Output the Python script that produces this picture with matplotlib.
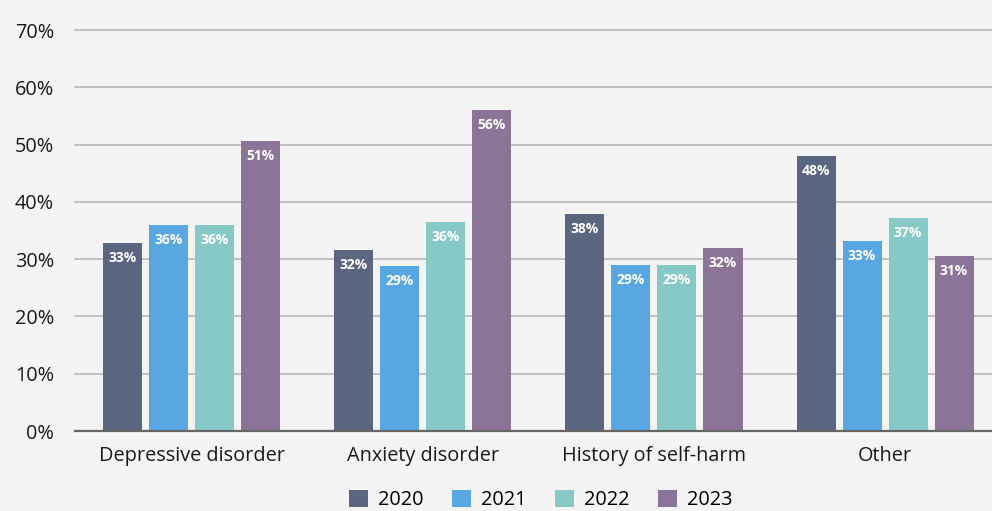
import matplotlib
matplotlib.use("Agg")
import matplotlib.pyplot as plt
from matplotlib.patches import Patch
import numpy as np

plt.rcParams['font.family'] = ['Open Sans', 'DejaVu Sans']

categories = ["Depressive disorder", "Anxiety disorder", "History of self-harm", "Other"]
years = ["2020", "2021", "2022", "2023"]
v2020 = [32.8, 31.6, 37.9, 48.0]
v2021 = [36.0, 28.8, 29.0, 33.2]
v2022 = [36.0, 36.5, 28.9, 37.2]
v2023 = [50.6, 56.0, 31.9, 30.6]
yticks = [0, 10, 20, 30, 40, 50, 60, 70]
colors = ["#5a667f", "#58a6e2", "#87c9c6", "#8c7499"]

series = [v2020, v2021, v2022, v2023]
bg = "#f4f4f4"

fig = plt.figure(figsize=(9.92, 5.11), dpi=100, facecolor=bg)
ax = fig.add_axes([75/992, 80/511, 1 - 75/992, (431-30)/511])
ax.set_facecolor(bg)

x = np.arange(len(categories))
step = 46/231
width = 39/231
for i, (vals, c) in enumerate(zip(series, colors)):
    pos = x + (i - 1.5) * step
    ax.bar(pos, vals, width=width, color=c, zorder=3)
    for p, v in zip(pos, vals):
        ax.text(p, v - 1.4, f"{round(v)}%", ha='center', va='top', color='white',
                fontsize=10, fontweight='bold', zorder=4)

ax.set_xlim(-0.506, 3.463)
ax.set_ylim(0, 70)
ax.set_yticks(yticks)
ax.set_yticklabels([f"{t}%" for t in yticks])
ax.set_xticks(x)
ax.set_xticklabels(categories)
ax.tick_params(axis='both', length=0, labelsize=14.3, colors='#1a1a1a')
ax.tick_params(axis='y', pad=15)
ax.tick_params(axis='x', pad=11)
for s in ax.spines.values():
    s.set_visible(False)
for t in yticks[1:]:
    ax.axhline(t, color='#b8b8b8', linewidth=1.2, zorder=1, clip_on=False)
ax.axhline(0, color='#666666', linewidth=1.6, zorder=5, clip_on=False)

handles = [Patch(facecolor=c, edgecolor='none') for c in colors]
fig.legend(handles, years, loc='center', bbox_to_anchor=(541/992, 1 - 500/511),
           ncol=4, frameon=False, fontsize=14.3, handlelength=0.95, handleheight=0.95,
           handletextpad=0.5, columnspacing=1.45)

fig.savefig("out.png", dpi=100, facecolor=bg)
